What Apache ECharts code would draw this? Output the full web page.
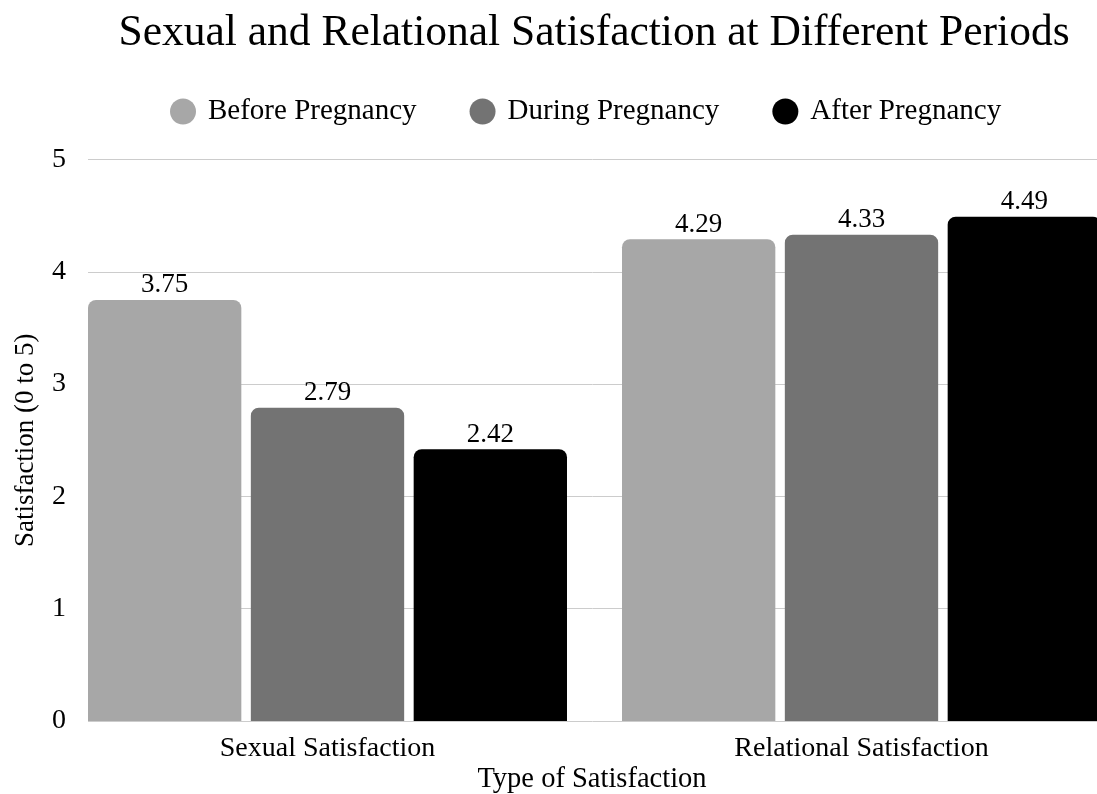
<!DOCTYPE html>
<html><head><meta charset="utf-8">
<script src="https://cdn.jsdelivr.net/npm/echarts@6/dist/echarts.min.js"></script>
<style>html,body{margin:0;padding:0;background:#fff}#c{width:1097px;height:794px}</style>
</head><body><div id="c"></div>
<script>
const categories = ['Sexual Satisfaction', 'Relational Satisfaction'];
const seriesNames = ['Before Pregnancy', 'During Pregnancy', 'After Pregnancy'];
const beforeValues = [3.75, 4.29];
const duringValues = [2.79, 4.33];
const afterValues = [2.42, 4.49];
const yTicks = [0, 1, 2, 3, 4, 5];
const colors = ['#a7a7a7', '#737373', '#000000'];
const FONT = '"Liberation Serif", "Times New Roman", serif';

const chart = echarts.init(document.getElementById('c'), null, {renderer: 'canvas'});
const values = [beforeValues, duringValues, afterValues];
const option = {
  animation: false,
  backgroundColor: '#ffffff',
  textStyle: {fontFamily: FONT},
  graphic: [
    {type: 'text', x: 594, y: 34, style: {text: 'Sexual and Relational Satisfaction at Different Periods', textAlign: 'center', textVerticalAlign: 'middle', fill: '#000', font: '43.5px ' + FONT}},
    {type: 'text', x: 592, y: 780, style: {text: 'Type of Satisfaction', textAlign: 'center', textVerticalAlign: 'middle', fill: '#000', font: '28.5px ' + FONT}}
  ],
  legend: {
    left: 165, top: 92,
    icon: 'circle', itemWidth: 26, itemHeight: 26, itemGap: 53,
    textStyle: {fontFamily: FONT, fontSize: 29, color: '#000', padding: [0, 0, 0, 7]},
    data: seriesNames
  },
  grid: [
    {left: 60.5, width: 1068, top: 159.5, height: 561.5, outerBoundsMode: 'none', containLabel: false},
    {left: 88, right: 0, top: 159.5, height: 561.5, outerBoundsMode: 'none', containLabel: false}
  ],
  xAxis: [
    {gridIndex: 0, type: 'category', data: categories,
     axisLine: {show: false}, axisTick: {show: false},
     axisLabel: {fontFamily: FONT, fontSize: 28, color: '#000', margin: 14}},
    {gridIndex: 1, type: 'category', data: categories, show: false}
  ],
  yAxis: [
    {gridIndex: 0, type: 'value', min: yTicks[0], max: yTicks[yTicks.length - 1], interval: 1, show: false, splitLine: {show: false}},
    {gridIndex: 1, type: 'value', min: yTicks[0], max: yTicks[yTicks.length - 1], interval: 1,
     name: 'Satisfaction (0 to 5)', nameLocation: 'middle', nameGap: 49, nameRotate: 90,
     nameTextStyle: {fontFamily: FONT, fontSize: 27, color: '#000'},
     axisLine: {show: false}, axisTick: {show: false},
     axisLabel: {fontFamily: FONT, fontSize: 28, color: '#000', margin: 22},
     splitLine: {show: true, lineStyle: {color: '#cccccc', width: 1}}}
  ],
  series: seriesNames.map((name, i) => ({
    name: name, type: 'bar', xAxisIndex: 0, yAxisIndex: 0,
    data: values[i],
    barCategoryGap: '10.3%', barGap: '6.2%',
    itemStyle: {color: colors[i], borderRadius: [8, 8, 0, 0]},
    label: {show: true, position: 'top', distance: 1, fontFamily: FONT, fontSize: 27, color: '#000',
            formatter: p => p.value.toFixed(2)}
  }))
};
chart.setOption(option);
</script>
</body></html>
